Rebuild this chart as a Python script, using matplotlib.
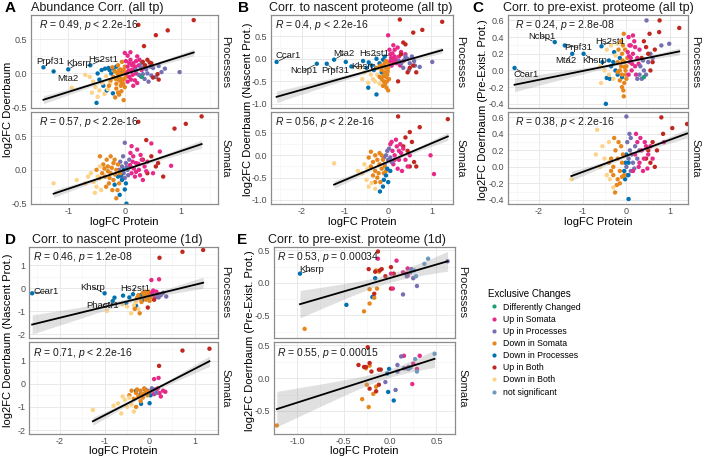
import matplotlib
matplotlib.use("Agg")
import matplotlib.pyplot as plt
import numpy as np
from matplotlib.lines import Line2D

plt.rcParams["font.family"] = ["Liberation Sans", "DejaVu Sans"]
plt.rcParams["mathtext.fontset"] = "custom"
plt.rcParams["mathtext.rm"] = "Liberation Sans"
plt.rcParams["mathtext.it"] = "Liberation Sans:italic"
plt.rcParams["axes.unicode_minus"] = False

W, H = 708, 457

categories = ["DC", "US", "UP", "DS", "DP", "UB", "DB", "NS"]
category_labels = ["Differently Changed", "Up in Somata", "Up in Processes", "Down in Somata",
                   "Down in Processes", "Up in Both", "Down in Both", "not significant"]
category_colors = ["#1B9E77", "#E7298A", "#7570B3", "#E6861C",
                   "#0072B2", "#C0271E", "#FDD38A", "#6A9BC3"]

# (logFC Protein, log2FC Doerrbaum, category[, gene])
A_proc = [
    (-1.44, 0.09, "DP", "Prpf31"), (-1.26, 0.03, "DP", "Mta2"), (-1.0, 0.06, "DP", "Khsrp"),
    (-0.61, 0.12, "DP", "Hs2st1"), (-0.5, -0.43, "DP"), (-0.48, 0.0, "DP"), (-0.41, 0.05, "DP"),
    (-0.35, 0.07, "DP"), (-0.29, 0.08, "DP"), (-0.24, 0.0, "DP"), (-0.2, 0.07, "DP"),
    (-0.32, -0.25, "DP"), (-0.21, -0.29, "DP"), (-0.38, -0.18, "DP"), (-0.45, -0.09, "DP"),
    (-0.12, -0.05, "DP"), (-0.15, 0.1, "DP"), (-0.05, 0.03, "DP"), (-0.27, 0.05, "DP"),
    (-0.94, -0.21, "DB"), (-0.48, -0.34, "DB"), (-0.56, -0.12, "DB"), (-0.62, -0.05, "DB"),
    (-0.45, -0.25, "DB"), (-0.4, -0.14, "DB"), (-0.33, -0.04, "DB"), (-0.3, -0.23, "DB"),
    (-0.52, -0.2, "DB"), (-0.26, -0.14, "DB"), (-0.7, -0.02, "DB"), (-0.36, -0.3, "DB"),
    (-0.58, -0.28, "DB"),
    (-0.02, -0.39, "DS"), (-0.15, -0.22, "DS"), (-0.1, -0.1, "DS"), (-0.05, 0.0, "DS"),
    (-0.08, 0.06, "DS"), (-0.12, 0.12, "DS"), (-0.2, -0.05, "DS"), (-0.18, 0.03, "DS"),
    (-0.03, -0.15, "DS"), (-0.06, -0.26, "DS"), (-0.1, -0.31, "DS"), (0.0, 0.1, "DS"),
    (-0.25, -0.1, "DS"), (-0.15, -0.15, "DS"), (-0.02, 0.05, "DS"), (-0.08, -0.07, "DS"),
    (0.02, -0.05, "DS"), (-0.22, 0.09, "DS"), (-0.12, -0.28, "DS"), (0.0, -0.2, "DS"),
    (-0.05, 0.17, "DS"), (-0.17, -0.35, "DS"), (-0.07, -0.18, "DS"), (-0.28, -0.18, "DS"),
    (-0.04, -0.1, "DS"), (0.03, 0.02, "DS"), (-0.13, 0.0, "DS"), (-0.09, -0.02, "DS"),
    (-0.16, -0.08, "DS"), (-0.01, -0.08, "DS"), (-0.11, 0.04, "DS"), (-0.06, -0.13, "DS"),
    (0.0, 0.30, "US"), (0.05, 0.26, "US"), (0.1, 0.2, "US"), (0.15, 0.15, "US"), (0.05, 0.1, "US"),
    (0.12, 0.05, "US"), (0.2, 0.0, "US"), (0.08, -0.05, "US"), (0.18, -0.1, "US"), (0.25, 0.12, "US"),
    (0.3, 0.05, "US"), (0.02, 0.18, "US"), (0.22, 0.25, "US"), (0.15, -0.18, "US"), (0.1, 0.31, "US"),
    (0.28, -0.04, "US"), (0.05, -0.12, "US"), (0.35, 0.1, "US"), (0.13, 0.12, "US"), (0.2, 0.18, "US"),
    (0.08, 0.15, "US"), (0.17, 0.07, "US"), (0.26, 0.2, "US"), (0.03, 0.0, "US"), (0.14, -0.02, "US"),
    (0.22, -0.14, "US"), (0.07, 0.04, "US"), (0.11, -0.09, "US"), (0.19, 0.1, "US"),
    (0.97, 0.02, "UP"), (0.71, 0.07, "UP"), (0.65, 0.02, "UP"), (0.55, -0.05, "UP"), (0.45, 0.1, "UP"),
    (0.4, 0.0, "UP"), (0.35, -0.08, "UP"), (0.3, 0.15, "UP"), (0.25, -0.02, "UP"), (0.5, 0.08, "UP"),
    (0.42, -0.12, "UP"), (0.6, 0.11, "UP"), (0.2, 0.05, "UP"), (0.38, 0.06, "UP"), (0.32, -0.01, "UP"),
    (0.28, 0.09, "UP"), (0.47, -0.03, "UP"),
    (0.24, 0.71, "UB"), (1.22, 0.78, "UB"), (0.55, 0.56, "UB"), (0.76, 0.63, "UB"), (0.34, 0.4, "UB"),
    (0.32, 0.17, "UB"), (0.47, 0.15, "UB"), (0.5, -0.06, "UB"), (0.58, -0.01, "UB"), (0.4, 0.2, "UB"),
    (0.6, -0.09, "UB"), (0.44, 0.16, "UB"), (0.36, 0.12, "UB"),
    (0.3, -0.05, "DC"),
]
A_soma = [
    (1.36, 0.79, "UB"), (1.08, 0.68, "UB"), (0.88, 0.61, "UB"), (0.38, 0.44, "UB"), (0.24, 0.71, "UB"),
    (0.47, 0.2, "UB"), (0.59, 0.1, "UB"), (0.68, -0.1, "UB"), (0.32, 0.15, "UB"), (0.55, 0.05, "UB"),
    (0.4, -0.05, "UB"),
    (0.0, 0.4, "UP"), (-0.05, 0.05, "UP"), (-0.02, -0.05, "UP"), (0.02, 0.1, "UP"), (0.05, 0.0, "UP"),
    (-0.08, 0.12, "UP"), (0.08, 0.15, "UP"), (0.0, -0.12, "UP"), (0.1, 0.05, "UP"), (-0.03, 0.2, "UP"),
    (0.06, -0.08, "UP"), (-0.1, 0.0, "UP"), (0.03, 0.04, "UP"), (-0.06, -0.1, "UP"),
    (0.47, 0.39, "US"), (0.62, 0.27, "US"), (0.82, 0.06, "US"), (0.5, -0.05, "US"), (0.32, -0.15, "US"),
    (0.1, 0.25, "US"), (0.15, 0.2, "US"), (0.2, 0.1, "US"), (0.25, 0.0, "US"), (0.12, -0.05, "US"),
    (0.3, 0.15, "US"), (0.18, -0.1, "US"), (0.35, 0.05, "US"), (0.22, 0.3, "US"), (0.28, 0.22, "US"),
    (0.14, 0.12, "US"), (0.4, 0.12, "US"), (0.2, -0.03, "US"), (0.12, 0.35, "US"), (0.27, -0.08, "US"),
    (0.38, -0.02, "US"), (0.16, 0.02, "US"), (0.09, 0.07, "US"), (0.24, 0.09, "US"),
    (0.03, -0.5, "DP"), (0.0, -0.29, "DP"), (-0.09, -0.37, "DP"), (-0.18, -0.22, "DP"),
    (-0.05, -0.15, "DP"), (-0.02, 0.0, "DP"), (-0.07, -0.08, "DP"), (-0.12, -0.1, "DP"), (0.02, -0.2, "DP"),
    (-0.44, 0.2, "DS"), (-0.15, -0.42, "DS"), (-0.2, 0.1, "DS"), (-0.3, 0.05, "DS"), (-0.25, -0.05, "DS"),
    (-0.35, -0.1, "DS"), (-0.15, 0.0, "DS"), (-0.4, -0.05, "DS"), (-0.28, -0.2, "DS"), (-0.1, -0.2, "DS"),
    (-0.32, 0.15, "DS"), (-0.22, -0.3, "DS"), (-0.18, 0.15, "DS"), (-0.45, -0.12, "DS"), (-0.12, 0.08, "DS"),
    (-0.38, 0.08, "DS"), (-0.27, -0.12, "DS"), (-0.2, -0.15, "DS"), (-0.33, -0.25, "DS"), (-0.23, 0.03, "DS"),
    (-0.13, -0.3, "DS"), (-0.5, 0.0, "DS"), (-0.25, 0.2, "DS"), (-0.08, -0.05, "DS"), (-0.3, -0.02, "DS"),
    (-0.17, -0.07, "DS"), (-0.36, 0.02, "DS"),
    (-1.26, -0.2, "DB"), (-0.85, -0.15, "DB"), (-0.65, -0.1, "DB"), (-0.5, -0.25, "DB"), (-0.53, -0.34, "DB"),
    (-0.44, 0.05, "DB"), (-0.6, -0.05, "DB"), (-0.55, -0.18, "DB"), (-0.7, -0.2, "DB"), (-0.42, -0.3, "DB"),
    (-0.48, -0.1, "DB"),
]
B_proc = [
    (-2.58, -0.07, "DP", "Ccar1"), (-1.65, -0.11, "DP", "Ncbp1"), (-1.42, -0.11, "DP", "Prpf31"),
    (-1.25, -0.02, "DP", "Mta2"), (-0.85, -0.17, "DP", "Khsrp"), (-0.27, 0.0, "DP", "Hs2st1"),
    (-0.98, -0.07, "DP"), (-0.58, -0.05, "DP"), (-0.45, -0.08, "DP"), (-0.46, -0.64, "DP"),
    (-0.27, -0.79, "DP"), (-0.38, -0.15, "DP"), (-0.2, -0.1, "DP"), (-0.12, -0.02, "DP"),
    (-0.33, -0.25, "DP"), (-0.15, -0.3, "DP"), (-0.5, -0.2, "DP"), (-0.08, 0.05, "DP"),
    (-0.46, -0.53, "DB"), (-0.6, -0.45, "DB"), (-0.35, -0.45, "DB"), (-0.4, -0.35, "DB"), (-0.3, -0.5, "DB"),
    (-0.25, -0.35, "DB"), (-0.55, -0.3, "DB"), (-0.2, -0.55, "DB"), (-0.65, -0.2, "DB"),
    (-0.04, -0.64, "DS"), (-0.1, -0.5, "DS"), (-0.05, -0.4, "DS"), (-0.15, -0.25, "DS"), (-0.1, -0.15, "DS"),
    (-0.05, -0.05, "DS"), (0.0, -0.2, "DS"), (-0.2, -0.4, "DS"), (-0.08, -0.3, "DS"), (-0.02, -0.35, "DS"),
    (0.02, -0.1, "DS"), (-0.12, -0.6, "DS"), (-0.06, -0.2, "DS"), (-0.18, -0.15, "DS"), (-0.03, -0.5, "DS"),
    (0.0, -0.7, "DS"), (-0.15, -0.45, "DS"), (-0.08, -0.1, "DS"), (0.02, -0.45, "DS"), (-0.25, -0.2, "DS"),
    (-0.11, -0.38, "DS"), (-0.01, -0.28, "DS"), (-0.07, -0.56, "DS"),
    (0.0, 0.52, "US"), (0.05, 0.1, "US"), (0.1, 0.0, "US"), (0.15, 0.2, "US"), (0.2, -0.1, "US"),
    (0.08, -0.15, "US"), (0.25, 0.05, "US"), (0.3, 0.15, "US"), (0.12, 0.3, "US"), (0.18, -0.02, "US"),
    (0.05, -0.05, "US"), (0.22, 0.25, "US"), (0.35, -0.05, "US"), (0.1, 0.12, "US"), (0.28, -0.15, "US"),
    (0.03, 0.2, "US"), (0.15, 0.05, "US"), (0.4, 0.1, "US"), (0.07, 0.02, "US"), (0.13, -0.08, "US"),
    (1.02, -0.07, "UP"), (0.73, -0.18, "UP"), (0.6, -0.05, "UP"), (0.5, -0.1, "UP"), (0.45, 0.0, "UP"),
    (0.35, -0.2, "UP"), (0.4, 0.05, "UP"), (0.55, 0.05, "UP"), (0.3, -0.1, "UP"), (0.25, -0.05, "UP"),
    (0.62, -0.15, "UP"), (0.48, -0.25, "UP"), (0.38, -0.02, "UP"),
    (0.27, 0.87, "UB"), (1.25, 0.82, "UB"), (0.58, 0.58, "UB"), (0.79, 0.64, "UB"), (0.35, 0.36, "UB"),
    (0.23, -0.5, "UB"), (0.4, 0.32, "UB"), (0.45, -0.3, "UB"), (0.58, -0.15, "UB"), (0.5, -0.2, "UB"),
    (0.65, -0.3, "UB"), (0.3, 0.1, "UB"),
]
B_soma = [
    (0.23, 0.87, "UB"), (1.38, 0.81, "UB"), (0.73, 0.63, "UB"), (0.5, 0.52, "UB"), (0.4, 0.4, "UB"),
    (0.55, 0.3, "UB"), (0.45, 0.1, "UB"), (0.6, -0.15, "UB"), (0.5, -0.25, "UB"), (0.65, -0.25, "UB"),
    (0.35, 0.2, "UB"),
    (1.06, -0.42, "US"), (0.98, 0.0, "US"), (0.05, 0.25, "US"), (0.1, 0.1, "US"), (0.15, 0.0, "US"),
    (0.2, 0.2, "US"), (0.25, -0.1, "US"), (0.3, 0.05, "US"), (0.12, -0.2, "US"), (0.35, 0.15, "US"),
    (0.18, 0.35, "US"), (0.4, -0.1, "US"), (0.22, -0.3, "US"), (0.08, 0.3, "US"), (0.28, 0.25, "US"),
    (0.45, -0.25, "US"), (0.32, -0.35, "US"), (0.15, -0.1, "US"), (0.5, 0.0, "US"), (0.25, 0.1, "US"),
    (-0.05, 0.0, "UP"), (0.0, -0.1, "UP"), (0.02, 0.15, "UP"), (-0.08, -0.2, "UP"), (0.05, -0.05, "UP"),
    (-0.02, 0.1, "UP"), (0.08, -0.15, "UP"), (-0.1, -0.05, "UP"),
    (-0.3, 0.0, "DS"), (-0.25, -0.1, "DS"), (-0.2, -0.2, "DS"), (-0.15, -0.3, "DS"), (-0.1, -0.4, "DS"),
    (-0.35, -0.15, "DS"), (-0.4, -0.25, "DS"), (-0.2, 0.05, "DS"), (-0.12, -0.1, "DS"), (-0.3, -0.35, "DS"),
    (-0.25, -0.5, "DS"), (-0.18, -0.6, "DS"), (-0.45, -0.05, "DS"), (-0.08, -0.25, "DS"), (-0.35, -0.45, "DS"),
    (-0.22, -0.4, "DS"), (-0.15, 0.0, "DS"), (-0.3, -0.6, "DS"), (-0.05, -0.35, "DS"), (-0.4, 0.08, "DS"),
    (-0.19, -0.81, "DP"), (-0.1, -0.55, "DP"), (0.0, -0.6, "DP"), (-0.05, -0.45, "DP"), (-0.12, -0.7, "DP"),
    (-0.02, -0.3, "DP"), (0.05, -0.35, "DP"),
    (-1.25, -0.18, "DB"), (-0.6, -0.4, "DB"), (-0.5, -0.55, "DB"), (-0.45, -0.7, "DB"), (-0.55, -0.2, "DB"),
    (-0.38, -0.62, "DB"), (-0.7, -0.35, "DB"), (-0.3, -0.75, "DB"), (-0.48, -0.3, "DB"),
]
C_proc = [
    (-2.56, 0.03, "DP", "Ccar1"), (-1.64, 0.34, "DP", "Ncbp1"), (-1.41, 0.3, "DP", "Prpf31"),
    (-1.24, 0.2, "DP", "Mta2"), (-0.98, 0.2, "DP", "Khsrp"), (-0.57, 0.29, "DP", "Hs2st1"),
    (-0.47, -0.4, "DP"), (-0.45, -0.09, "DP"), (-0.4, 0.12, "DP"), (-0.35, 0.05, "DP"), (-0.3, 0.1, "DP"),
    (-0.25, 0.0, "DP"), (-0.2, -0.05, "DP"), (-0.15, 0.15, "DP"), (-0.38, -0.1, "DP"), (-0.1, -0.08, "DP"),
    (-0.55, 0.1, "DP"), (-0.28, 0.22, "DP"),
    (-0.58, -0.15, "DB"), (-0.45, 0.25, "DB"), (-0.35, 0.3, "DB"), (-0.5, 0.0, "DB"), (-0.3, -0.1, "DB"),
    (-0.25, 0.18, "DB"), (-0.2, 0.32, "DB"), (-0.6, 0.05, "DB"), (-0.4, -0.05, "DB"),
    (-0.06, 0.44, "DS"), (-0.06, -0.31, "DS"), (-0.1, -0.2, "DS"), (-0.15, 0.0, "DS"), (-0.05, 0.1, "DS"),
    (-0.1, 0.2, "DS"), (0.0, -0.1, "DS"), (-0.2, 0.1, "DS"), (-0.08, 0.3, "DS"), (-0.02, 0.0, "DS"),
    (-0.12, 0.05, "DS"), (-0.05, -0.15, "DS"), (0.02, 0.15, "DS"), (-0.15, -0.12, "DS"), (-0.18, 0.25, "DS"),
    (-0.03, 0.25, "DS"), (-0.1, -0.05, "DS"), (0.0, 0.05, "DS"), (-0.07, -0.24, "DS"), (-0.2, -0.02, "DS"),
    (-0.12, 0.35, "DS"), (-0.04, 0.04, "DS"), (-0.09, 0.12, "DS"), (-0.01, -0.05, "DS"),
    (0.05, 0.4, "US"), (0.1, 0.3, "US"), (0.15, 0.2, "US"), (0.08, 0.1, "US"), (0.2, 0.05, "US"),
    (0.12, 0.0, "US"), (0.05, -0.05, "US"), (0.25, 0.15, "US"), (0.18, 0.35, "US"), (0.3, 0.25, "US"),
    (0.1, 0.15, "US"), (0.22, -0.05, "US"), (0.03, 0.22, "US"), (0.15, 0.42, "US"), (0.28, 0.08, "US"),
    (0.07, 0.3, "US"), (0.2, 0.28, "US"), (0.06, 0.17, "US"), (0.13, 0.08, "US"),
    (0.46, 0.6, "UP"), (0.98, 0.32, "UP"), (0.8, 0.3, "UP"), (0.4, 0.0, "UP"), (0.35, -0.1, "UP"),
    (0.3, -0.05, "UP"), (0.5, 0.1, "UP"), (0.45, -0.05, "UP"), (0.25, -0.1, "UP"), (0.6, 0.15, "UP"),
    (0.55, 0.2, "UP"), (0.38, 0.12, "UP"), (0.32, 0.05, "UP"),
    (0.76, 0.6, "UB"), (1.21, 0.51, "UB"), (0.53, 0.44, "UB"), (0.75, 0.46, "UB"), (0.45, 0.28, "UB"),
    (0.5, 0.2, "UB"), (0.6, 0.1, "UB"), (0.4, 0.35, "UB"), (0.55, 0.0, "UB"), (0.65, 0.25, "UB"),
    (0.35, 0.15, "UB"),
    (0.4, -0.08, "DC"),
]
C_soma = [
    (0.0, 0.61, "UP"), (0.05, 0.1, "UP"), (0.0, 0.0, "UP"), (0.08, 0.2, "UP"), (0.1, -0.05, "UP"),
    (0.02, 0.3, "UP"), (0.12, 0.15, "UP"), (0.15, 0.05, "UP"), (0.05, -0.1, "UP"), (0.2, 0.25, "UP"),
    (0.18, -0.02, "UP"), (0.25, 0.1, "UP"), (0.1, 0.35, "UP"), (0.3, 0.2, "UP"), (0.07, 0.4, "UP"),
    (0.8, 0.6, "UB"), (1.39, 0.52, "UB"), (1.05, 0.47, "UB"), (0.84, 0.4, "UB"), (0.6, 0.3, "UB"),
    (0.5, 0.2, "UB"), (0.7, 0.2, "UB"), (0.55, 0.05, "UB"), (0.45, 0.1, "UB"), (0.65, 0.0, "UB"),
    (0.86, 0.3, "US"), (0.2, 0.15, "US"), (0.25, 0.3, "US"), (0.3, 0.05, "US"), (0.35, 0.2, "US"),
    (0.4, 0.1, "US"), (0.28, 0.0, "US"), (0.45, 0.25, "US"), (0.22, 0.4, "US"), (0.5, 0.15, "US"),
    (0.38, -0.05, "US"), (0.6, 0.1, "US"), (0.32, 0.35, "US"), (0.15, -0.05, "US"), (0.42, 0.3, "US"),
    (0.55, 0.25, "US"), (0.48, -0.02, "US"),
    (0.05, -0.39, "DP"), (-0.02, 0.05, "DP"), (0.03, -0.1, "DP"), (-0.05, -0.05, "DP"), (0.0, 0.15, "DP"),
    (-0.03, -0.15, "DP"), (0.05, 0.05, "DP"),
    (-0.26, -0.31, "DS"), (-0.3, 0.0, "DS"), (-0.2, 0.1, "DS"), (-0.15, -0.05, "DS"), (-0.25, 0.2, "DS"),
    (-0.1, 0.05, "DS"), (-0.35, 0.1, "DS"), (-0.2, -0.15, "DS"), (-0.12, 0.25, "DS"), (-0.3, -0.1, "DS"),
    (-0.05, -0.1, "DS"), (-0.4, 0.05, "DS"), (-0.18, 0.3, "DS"), (-0.22, -0.22, "DS"), (-0.08, 0.15, "DS"),
    (-0.28, 0.35, "DS"), (-0.15, -0.2, "DS"), (-0.35, -0.05, "DS"), (-0.1, -0.12, "DS"),
    (-1.26, -0.15, "DB"), (-0.67, 0.45, "DB"), (-0.5, 0.1, "DB"), (-0.45, -0.1, "DB"), (-0.55, 0.25, "DB"),
    (-0.4, 0.3, "DB"), (-0.6, 0.0, "DB"), (-0.38, -0.15, "DB"), (-0.7, 0.15, "DB"), (-0.3, -0.25, "DB"),
]
D_proc = [
    (-2.61, -0.22, "DP", "Ccar1"), (-1.0, -0.22, "DP", "Khsrp"), (-0.82, -0.56, "DP", "Phactr1"),
    (-0.37, -0.26, "DP", "Hs2st1"), (-0.78, -0.41, "DP"), (-0.59, -0.32, "DP"), (-0.52, -0.65, "DP"),
    (-0.3, -0.77, "DP"), (-0.45, -0.4, "DP"), (-0.2, -0.3, "DP"), (-0.15, -0.5, "DP"),
    (-0.95, -0.99, "DB"), (-0.41, -1.09, "DB"), (-0.5, -0.8, "DB"), (-0.35, -0.75, "DB"),
    (-0.25, -0.9, "DB"), (-0.6, -0.7, "DB"), (-0.3, -0.6, "DB"),
    (-0.22, -1.09, "DS"), (-0.33, -0.9, "DS"), (-0.1, -0.3, "DS"), (-0.05, -0.4, "DS"), (-0.15, -0.2, "DS"),
    (0.0, -0.25, "DS"), (-0.08, -0.5, "DS"), (-0.2, -0.45, "DS"), (-0.12, -0.35, "DS"), (-0.02, -0.15, "DS"),
    (-0.25, -0.3, "DS"), (0.02, -0.4, "DS"), (-0.18, -0.6, "DS"), (-0.05, -0.2, "DS"), (-0.1, -0.15, "DS"),
    (-0.28, -0.42, "DS"), (0.0, -0.55, "DS"),
    (0.04, 0.36, "US"), (0.21, 0.39, "US"), (0.05, -0.2, "US"), (0.1, -0.3, "US"), (0.15, -0.15, "US"),
    (0.08, -0.1, "US"), (0.2, -0.25, "US"), (0.12, -0.4, "US"),
    (0.37, -0.36, "UP"), (0.25, -0.3, "UP"), (0.3, -0.2, "UP"), (0.2, -0.4, "UP"), (0.15, -0.3, "UP"),
    (0.73, 1.59, "UB"), (1.19, 1.67, "UB"), (0.22, 1.33, "UB"), (-0.04, -0.84, "UB"), (0.1, -0.5, "UB"),
]
D_soma = [
    (0.21, 0.77, "UB"), (0.73, 1.43, "UB"), (1.33, 1.51, "UB"),
    (0.1, 0.2, "US"), (0.2, 0.25, "US"), (0.05, -0.3, "US"), (0.15, -0.25, "US"), (0.22, -0.4, "US"),
    (0.3, -0.3, "US"), (0.1, -0.45, "US"), (0.25, -0.55, "US"), (0.35, -0.35, "US"), (0.18, -0.2, "US"),
    (0.05, -0.2, "UP"), (0.0, -0.35, "UP"), (0.1, -0.25, "UP"), (-0.05, -0.3, "UP"), (0.15, -0.4, "UP"),
    (-0.19, -0.87, "DP"), (0.0, -0.84, "DP"), (-0.3, -0.3, "DP"), (-0.1, -0.25, "DP"), (0.02, -0.5, "DP"),
    (-0.2, -0.45, "DP"),
    (-0.3, -0.4, "DS"), (-0.2, -0.3, "DS"), (-0.1, -0.4, "DS"), (-0.25, -0.55, "DS"), (-0.15, -0.6, "DS"),
    (-0.35, -0.65, "DS"), (-0.4, -0.3, "DS"), (-0.05, -0.5, "DS"), (-0.28, -0.25, "DS"), (-0.45, -0.5, "DS"),
    (-0.12, -0.2, "DS"), (-0.2, -0.75, "DS"), (-0.08, -0.3, "DS"), (-0.3, -1.0, "DS"), (-0.18, -0.45, "DS"),
    (-0.02, -0.35, "DS"),
    (-1.26, -1.13, "DB"), (-0.63, -1.28, "DB"), (-0.7, -0.85, "DB"), (-0.55, -0.7, "DB"), (-0.5, -1.0, "DB"),
    (-0.4, -0.9, "DB"), (-0.35, -1.2, "DB"), (-0.8, -0.95, "DB"), (-0.45, -0.6, "DB"), (-0.6, -0.55, "DB"),
]
E_proc = [
    (-0.97, 0.14, "DP", "Khsrp"), (-0.47, -0.34, "DP"), (-0.19, -0.22, "DP"), (-0.16, 0.07, "DP"),
    (-0.92, -0.71, "DS"), (-0.28, -0.44, "DS"), (-0.22, -0.32, "DS"), (-0.22, -0.10, "DS"),
    (-0.17, -0.23, "DS"), (-0.14, -0.09, "DS"), (-0.15, 0.19, "DS"), (-0.12, 0.17, "DS"),
    (-0.13, 0.48, "UB"), (-0.23, 0.21, "UB"), (-0.16, 0.17, "UB"), (-0.11, 0.19, "UB"), (-0.09, 0.21, "UB"),
    (-0.05, 0.10, "UB"), (0.01, 0.24, "UB"), (0.01, -0.09, "UB"), (-0.17, -0.17, "UB"), (0.04, 0.14, "UB"),
    (0.18, 0.14, "UB"),
    (-0.13, 0.37, "US"), (0.07, 0.34, "US"), (0.14, 0.16, "US"), (0.19, 0.22, "US"), (0.19, 0.11, "US"),
    (0.03, -0.09, "US"), (0.01, 0.14, "US"),
    (0.62, 0.33, "UP"), (0.14, -0.18, "UP"), (0.29, -0.05, "UP"), (0.23, 0.21, "UP"), (0.18, 0.1, "UP"),
    (0.25, 0.07, "UP"),
    (0.41, 0.37, "NS"), (0.37, 0.29, "NS"), (0.28, 0.10, "NS"), (0.22, 0.16, "NS"), (0.26, 0.19, "NS"),
]
E_soma = [
    (-1.22, -0.72, "DS"), (-0.23, -0.44, "DS"), (-0.3, -0.32, "DS"), (-0.25, -0.10, "DS"),
    (-0.18, -0.24, "DS"), (-0.15, -0.13, "DS"), (-0.22, 0.19, "DS"), (-0.26, 0.15, "DS"),
    (-0.01, 0.14, "DP"), (0.04, -0.34, "DP"), (-0.02, -0.21, "DP"), (-0.03, 0.07, "DP"),
    (-0.24, 0.47, "UB"), (-0.34, 0.2, "UB"), (-0.28, 0.17, "UB"), (-0.26, 0.17, "UB"), (-0.22, 0.23, "UB"),
    (-0.2, 0.1, "UB"), (-0.12, 0.13, "UB"), (-0.1, 0.13, "UB"), (-0.22, -0.16, "UB"), (-0.15, -0.2, "UB"),
    (-0.12, -0.1, "UB"),
    (0.15, 0.34, "US"), (0.25, 0.22, "US"), (0.32, 0.34, "US"), (0.24, -0.09, "US"), (0.18, 0.15, "US"),
    (0.29, 0.14, "US"),
    (0.12, 0.33, "UP"), (0.08, 0.2, "UP"), (0.08, 0.1, "UP"), (-0.05, -0.06, "UP"), (0.06, -0.18, "UP"),
    (0.2, 0.17, "UP"), (0.15, 0.15, "UP"),
    (0.48, 0.37, "NS"), (0.27, 0.29, "NS"), (0.29, 0.10, "NS"), (0.22, 0.16, "NS"), (0.2, 0.14, "NS"),
]

# regression lines: (slope, intercept)
fit_A = [(0.26, -0.01), (0.28, 0.0)]
fit_B = [(0.27, -0.146), (0.41, -0.143)]
fit_C = [(0.106, 0.10), (0.195, 0.134)]
fit_D = [(0.48, -0.33), (1.0, -0.36)]
fit_E = [(0.415, 0.073), (0.45, 0.078)]

# approximate number of genes behind each facet (for the confidence band)
n_genes_A = [500, 500]
n_genes_B = [500, 500]
n_genes_C = [500, 500]
n_genes_D = [130, 130]
n_genes_E = [41, 41]

stats_A = ["0.49, $\\it{p}$ < 2.2e-16", "0.57, $\\it{p}$ < 2.2e-16"]
stats_B = ["0.4, $\\it{p}$ < 2.2e-16", "0.56, $\\it{p}$ < 2.2e-16"]
stats_C = ["0.24, $\\it{p}$ = 2.8e-08", "0.38, $\\it{p}$ < 2.2e-16"]
stats_D = ["0.46, $\\it{p}$ = 1.2e-08", "0.71, $\\it{p}$ < 2.2e-16"]
stats_E = ["0.53, $\\it{p}$ = 0.00034", "0.55, $\\it{p}$ = 0.00015"]

# label offsets in pixels (right, down) from the point
labels_A = {"Prpf31": (7, -6), "Mta2": (14, 7), "Khsrp": (10, -6), "Hs2st1": (13, -6)}
labels_B = {"Ccar1": (12, -6), "Ncbp1": (-13, 7), "Prpf31": (8, 7), "Mta2": (10, -6),
            "Khsrp": (12, 0), "Hs2st1": (-2, -5)}
labels_C = {"Ccar1": (12, 7), "Ncbp1": (-13, -6), "Prpf31": (13, 2), "Mta2": (-6, 7),
            "Khsrp": (11, 7), "Hs2st1": (9, -5)}
labels_D = {"Ccar1": (14, -2), "Khsrp": (-12, -6), "Phactr1": (-10, 4), "Hs2st1": (2, -6)}
labels_E = {"Khsrp": (12, -4)}

color_of = dict(zip(categories, category_colors))


def px_axes(fig, box):
    l, t, r, b = box
    return fig.add_axes([l / W, 1 - b / H, (r - l) / W, (b - t) / H])


def fmt_ticks(vals, dec):
    return [f"{v:.{dec}f}" for v in vals]


def minor_of(ticks):
    step = ticks[1] - ticks[0]
    return [t + step / 2 for t in ticks] + [ticks[0] - step / 2]


def draw_facet(ax, pts, fit, n_genes, xlim, ylim, xticks, yticks, xdec, ydec, stat, stat_dx,
               strip, show_x, labels):
    xs = np.array([p[0] for p in pts])
    ys = np.array([p[1] for p in pts])
    cols = [color_of[p[2]] for p in pts]
    ax.scatter(xs, ys, s=10, c=cols, linewidths=0, zorder=2)

    slope, icpt = fit
    lx = np.linspace(xs.min(), xs.max(), 100)
    ly = slope * lx + icpt
    resid = ys - (slope * xs + icpt)
    s = np.sqrt(np.sum(resid ** 2) / (len(xs) - 2))
    se = s * np.sqrt(1 / n_genes + (lx - xs.mean()) ** 2 / (n_genes * xs.var()))
    ax.fill_between(lx, ly - 1.96 * se, ly + 1.96 * se, color="#999999", alpha=0.3,
                    linewidth=0, zorder=3)
    ax.plot(lx, ly, color="black", lw=1.3, zorder=4)

    for p in pts:
        if len(p) == 4 and p[3] in labels:
            dx, dy = labels[p[3]]
            ax.annotate(p[3], xy=(p[0], p[1]), xytext=(dx * 0.72, -dy * 0.72),
                        textcoords="offset points", ha="center", va="center",
                        fontsize=6.8, color="#1A1A1A", zorder=5,
                        arrowprops=dict(arrowstyle="-", lw=0.5, color="#1A1A1A",
                                        shrinkA=0, shrinkB=2))

    ax.set_xticks(xticks)
    ax.set_yticks(yticks)
    ax.set_xticks(minor_of(xticks), minor=True)
    ax.set_yticks(minor_of(yticks), minor=True)
    ax.set_xlim(xlim)
    ax.set_ylim(ylim)
    ax.set_yticklabels(fmt_ticks(yticks, ydec))
    if show_x:
        ax.set_xticklabels(fmt_ticks(xticks, xdec))
    else:
        ax.set_xticklabels([])
    ax.tick_params(which="both", length=0, labelsize=6.5, labelcolor="#4D4D4D", pad=2.5)
    ax.grid(which="major", color="#E5E5E5", lw=0.6)
    ax.grid(which="minor", color="#F2F2F2", lw=0.4)
    ax.set_axisbelow(True)
    for sp in ax.spines.values():
        sp.set_color("#8C8C8C")
        sp.set_linewidth(0.9)

    ax.annotate("$\\it{R}$ = " + stat, xy=(0, 1), xycoords="axes fraction",
                xytext=(stat_dx * 0.72, -10.5 * 0.72), textcoords="offset points",
                ha="left", va="center", fontsize=7.5, color="#1A1A1A")
    ax.annotate(strip, xy=(1, 0.5), xycoords="axes fraction", xytext=(7 * 0.72, 0),
                textcoords="offset points", rotation=270, ha="center", va="center",
                fontsize=8, color="#1A1A1A")


fig = plt.figure(figsize=(W / 100, H / 100), dpi=100)

panels = [
    ("A", "Abundance Corr. (all tp)", "log2FC Doerrbaum", A_proc, A_soma, fit_A, n_genes_A, stats_A,
     labels_A, [(31, 15, 218, 108), (31, 112, 218, 204)], (-1.66, 1.65), (-0.505, 0.855),
     [-1, 0, 1], [-0.5, 0.0, 0.5], 0, 1, 8, (5, 31, 8, 222)),
    ("B", "Corr. to nascent proteome (all tp)", "log2FC Doerrbaum (Nascent Prot.)", B_proc, B_soma,
     fit_B, n_genes_B, stats_B, labels_B,
     [(271, 15, 453, 108), (271, 112, 453, 204)], (-2.71, 1.5), (-1.09, 0.97),
     [-2, -1, 0, 1], [-1.0, -0.5, 0.0, 0.5], 0, 1, 4, (238, 269, 248, 222)),
    ("C", "Corr. to pre-exist. proteome (all tp)", "log2FC Doerrbaum (Pre-Exist. Prot.)", C_proc, C_soma,
     fit_C, n_genes_C, stats_C, labels_C,
     [(508, 15, 688, 108), (508, 112, 688, 204)], (-2.71, 1.41), (-0.45, 0.665),
     [-2, -1, 0, 1], [-0.4, -0.2, 0.0, 0.2, 0.4, 0.6], 0, 1, 7, (472, 503, 483, 222)),
    ("D", "Corr. to nascent proteome (1d)", "log2FC Doerrbaum (Nascent Prot.)", D_proc, D_soma,
     fit_D, n_genes_D, stats_D, labels_D,
     [(29, 247, 218, 338), (29, 342, 218, 434)], (-2.68, 1.52), (-2.17, 1.8),
     [-2, -1, 0, 1], [-2, -1, 0, 1], 0, 0, 4, (5, 32, 8, 451)),
    ("E", "Corr. to pre-exist. proteome (1d)", "log2FC Doerrbaum (Pre-Exist. Prot.)", E_proc, E_soma,
     fit_E, n_genes_E, stats_E, labels_E,
     [(274, 247, 455, 338), (274, 342, 455, 434)], (-1.25, 0.7), (-0.85, 0.55),
     [-1.0, -0.5, 0.0, 0.5], [-0.5, 0.0, 0.5], 1, 1, 3, (237, 268, 250, 451)),
]

for (letter, title, ylabel, proc, soma, fits, ngenes, stats, labels, boxes, xlim, ylim,
     xticks, yticks, xdec, ydec, stat_dx, (lx, tx, ylx, xly)) in panels:
    ax_top = px_axes(fig, boxes[0])
    ax_bot = px_axes(fig, boxes[1])
    draw_facet(ax_top, proc, fits[0], ngenes[0], xlim, ylim, xticks, yticks, xdec, ydec,
               stats[0], stat_dx, "Processes", False, labels)
    draw_facet(ax_bot, soma, fits[1], ngenes[1], xlim, ylim, xticks, yticks, xdec, ydec,
               stats[1], stat_dx, "Somata", True, {})
    top = boxes[0][1]
    fig.text(lx / W, 1 - (top - 7) / H, letter, fontsize=11, fontweight="bold",
             ha="left", va="center")
    fig.text(tx / W, 1 - (top - 7) / H, title, fontsize=9, ha="left", va="center",
             color="#1A1A1A")
    cx = (boxes[0][0] + boxes[0][2]) / 2
    fig.text(cx / W, 1 - xly / H, "logFC Protein", fontsize=8, ha="center", va="center")
    cy = (boxes[0][1] + boxes[1][3]) / 2
    fig.text(ylx / W, 1 - cy / H, ylabel, fontsize=8, rotation=90, ha="center", va="center")

handles = [Line2D([], [], marker="o", linestyle="none", markersize=3, markerfacecolor=c,
                  markeredgewidth=0) for c in category_colors]
leg = fig.legend(handles, category_labels, title="Exclusive Changes", loc="upper left",
                 bbox_to_anchor=(484 / W, 1 - 285 / H), frameon=False, fontsize=6.3,
                 title_fontsize=7, handlelength=1.2, handletextpad=0.5, labelspacing=0.36,
                 alignment="left", borderpad=0)

fig.savefig("out.png", dpi=100)
